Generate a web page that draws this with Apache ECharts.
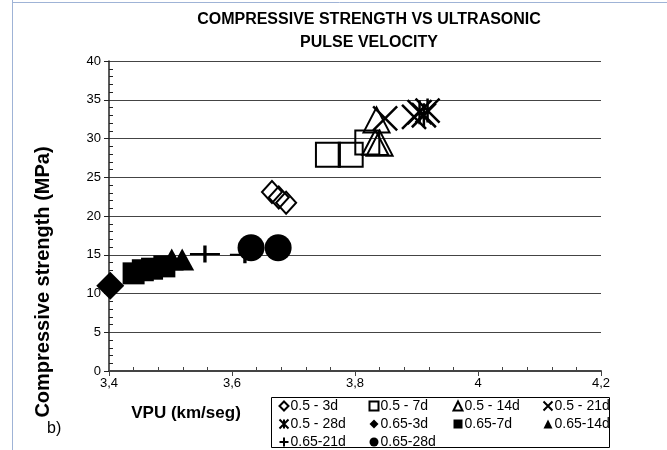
<!DOCTYPE html>
<html>
<head>
<meta charset="utf-8">
<title>Compressive strength vs ultrasonic pulse velocity</title>
<script src="https://cdn.jsdelivr.net/npm/echarts@6/dist/echarts.min.js"></script>
<style>
    html, body { margin: 0; padding: 0; background: #fff; }
    #chart { width: 667px; height: 450px; }
</style>
</head>
<body>
<div id="chart"></div>
<script>
// VPU (km/s) , compressive strength (MPa)
var s05_3d  = [[3.665, 23.1], [3.676, 22.4], [3.688, 21.7]];
var s05_7d  = [[3.756, 27.9], [3.793, 27.9], [3.820, 29.5]];
var s05_14d = [[3.835, 32.4], [3.833, 29.5], [3.840, 29.4]];
var s05_21d = [[3.849, 32.6], [3.896, 32.8]];
var s05_28d = [[3.905, 33.4], [3.912, 33.0], [3.918, 33.6]];
var s065_3d  = [[3.402, 11.0]];
var s065_7d  = [[3.440, 12.6], [3.455, 13.0], [3.470, 13.2], [3.490, 13.5]];
var s065_14d = [[3.502, 14.4], [3.519, 14.4]];
var s065_21d = [[3.556, 15.1], [3.621, 15.0]];
var s065_28d = [[3.631, 15.9], [3.675, 15.9]];

var xTicks = [3.4, 3.6, 3.8, 4.0, 4.2];
var yTicks = [0, 5, 10, 15, 20, 25, 30, 35, 40];

var FONT = '"Liberation Sans", Arial, sans-serif';
var CROSS = 'path://M0 0L10 10M10 0L0 10';
var STAR = 'path://M0 0L10 10M10 0L0 10M5 0L5 10';
var PLUS = 'path://M5 0L5 10M0 5L10 5';

var hollow = { color: 'none', borderColor: '#000', borderWidth: 2, opacity: 1 };
var solid = { color: '#000', borderColor: '#000', borderWidth: 0, opacity: 1 };
var stroke = { color: 'none', borderColor: '#000', borderWidth: 2.5, opacity: 1 };

function sc(name, data, symbol, size, style) {
    return {
        name: name,
        type: 'scatter',
        data: data,
        symbol: symbol,
        symbolSize: size,
        itemStyle: style,
        emphasis: { disabled: true },
        animation: false
    };
}

var legendText = { fontFamily: FONT, fontSize: 14, color: '#000', lineHeight: 14, padding: [0, 0, 0, -3] };
function leg(left, names) {
    return {
        orient: 'vertical',
        left: left,
        top: 399,
        itemWidth: 9,
        itemHeight: 9,
        itemGap: 4,
        padding: 0,
        selectedMode: false,
        textStyle: legendText,
        data: names
    };
}

var chart = echarts.init(document.getElementById('chart'));
chart.setOption({
    animation: false,
    grid: { left: 109, right: 66, top: 61, bottom: 79, containLabel: false },
    legend: [
        leg(277, ['0.5 - 3d', '0.5 - 28d', '0.65-21d']),
        leg(367, ['0.5 - 7d', '0.65-3d', '0.65-28d']),
        leg(451, ['0.5 - 14d', '0.65-7d']),
        leg(541, ['0.5 - 21d', '0.65-14d'])
    ],
    xAxis: [{
        type: 'value',
        min: xTicks[0],
        max: xTicks[xTicks.length - 1],
        interval: 0.2,
        axisLine: { lineStyle: { color: '#444', width: 2 } },
        axisTick: { length: 5, lineStyle: { color: '#444' } },
        axisLabel: {
            margin: 6,
            fontFamily: FONT, fontSize: 13, color: '#000',
            formatter: function (v) { return String(+v.toFixed(1)).replace('.', ','); }
        },
        splitLine: { show: false }
    }, {
        type: 'value',
        position: 'bottom',
        min: xTicks[0],
        max: xTicks[xTicks.length - 1],
        interval: 0.2,
        axisLine: { show: false },
        axisTick: { show: false, inside: true },
        minorTick: { show: true, splitNumber: 5, length: 4, lineStyle: { color: '#444' } },
        axisLabel: { show: false },
        splitLine: { show: false }
    }],
    yAxis: [{
        type: 'value',
        min: yTicks[0],
        max: yTicks[yTicks.length - 1],
        interval: 5,
        axisLine: { show: true, lineStyle: { color: '#222', width: 1.5 } },
        axisTick: { show: true, length: 5, lineStyle: { color: '#222' } },
        axisLabel: { margin: 8, fontFamily: FONT, fontSize: 13, color: '#000' },
        splitLine: { show: true, lineStyle: { color: '#444', width: 1 } }
    }, {
        type: 'value',
        position: 'left',
        min: yTicks[0],
        max: yTicks[yTicks.length - 1],
        interval: 5,
        axisLine: { show: false },
        axisTick: { show: false, inside: true },
        minorTick: { show: true, splitNumber: 5, length: 4, lineStyle: { color: '#222' } },
        axisLabel: { show: false },
        splitLine: { show: false }
    }],
    series: [
        sc('0.5 - 3d', s05_3d, 'diamond', [20, 22], hollow),
        sc('0.5 - 7d', s05_7d, 'rect', 24, hollow),
        sc('0.5 - 14d', s05_14d, 'triangle', [26, 25], hollow),
        sc('0.5 - 21d', s05_21d, CROSS, 24, stroke),
        sc('0.5 - 28d', s05_28d, STAR, 24, stroke),
        sc('0.65-3d', s065_3d, 'diamond', 28, solid),
        sc('0.65-7d', s065_7d, 'rect', 22, solid),
        sc('0.65-14d', s065_14d, 'triangle', [24, 22], solid),
        sc('0.65-21d', s065_21d, PLUS, [30, 17], stroke),
        sc('0.65-28d', s065_28d, 'circle', 27, solid)
    ],
    graphic: [
        // page frame lines
        { type: 'line', silent: true, shape: { x1: 12.5, y1: 0, x2: 12.5, y2: 450 }, style: { stroke: '#9fb3d6', lineWidth: 1 } },
        { type: 'line', silent: true, shape: { x1: 12, y1: 2.5, x2: 667, y2: 2.5 }, style: { stroke: '#9fb3d6', lineWidth: 1 } },
        {
            type: 'text', silent: true, x: 369, y: 8,
            style: {
                text: 'COMPRESSIVE STRENGTH VS ULTRASONIC\nPULSE VELOCITY',
                font: 'bold 16px ' + FONT, fill: '#000', align: 'center', lineHeight: 23
            }
        },
        {
            type: 'text', silent: true, x: 43, y: 282, rotation: Math.PI / 2,
            style: {
                text: 'Compressive strength (MPa)',
                font: 'bold 20px ' + FONT, fill: '#000', align: 'center', verticalAlign: 'middle'
            }
        },
        {
            type: 'text', silent: true, x: 186, y: 413,
            style: {
                text: 'VPU (km/seg)',
                font: 'bold 17px ' + FONT, fill: '#000', align: 'center', verticalAlign: 'middle'
            }
        },
        {
            type: 'text', silent: true, x: 47, y: 429,
            style: { text: 'b)', font: '16px ' + FONT, fill: '#000', verticalAlign: 'middle' }
        },
        {
            type: 'rect', silent: true, z: -1,
            shape: { x: 271.5, y: 397.5, width: 338, height: 50 },
            style: { fill: 'none', stroke: '#000', lineWidth: 1 }
        }
    ]
});
</script>
</body>
</html>
